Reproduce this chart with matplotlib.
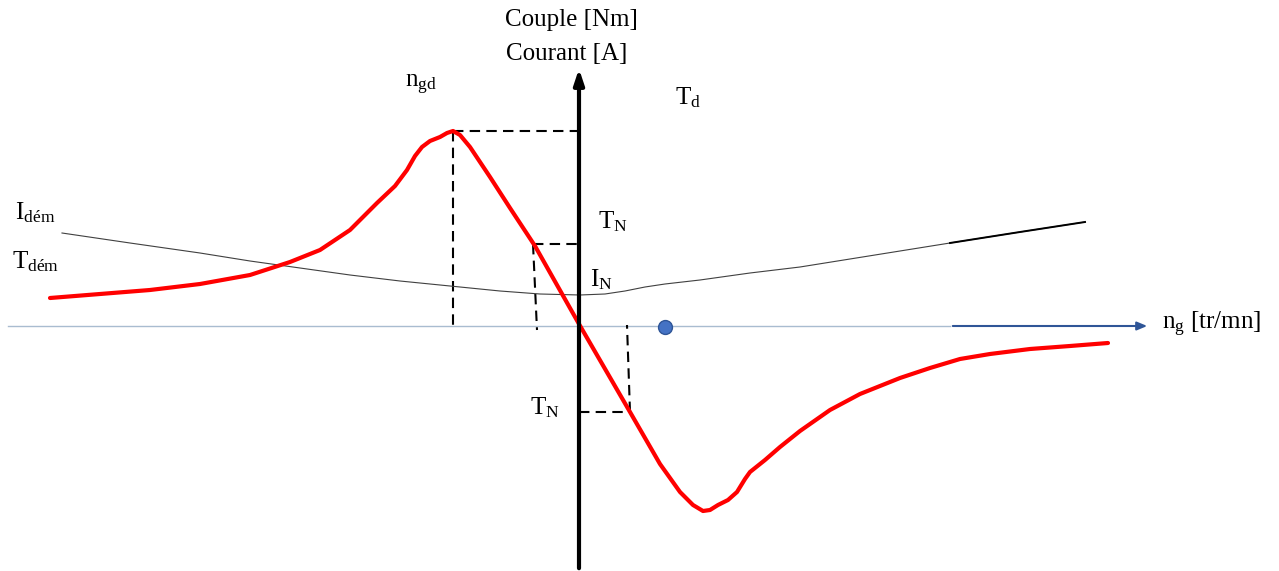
import matplotlib.pyplot as plt

plt.rcParams['mathtext.fontset'] = 'custom'
plt.rcParams['mathtext.rm'] = 'Liberation Serif'
plt.rcParams['mathtext.it'] = 'Liberation Serif'

# schematic coordinates (origin = axes crossing)
torque_x = [-529, -479, -429, -379, -329, -289, -259, -229, -202, -184, -172, -164, -157, -149,
            -139, -132, -126, -119, -109, -89, -69, -44, 0,
            51, 81, 101, 114, 124, 131, 139, 149, 158, 166, 171, 186, 201, 221, 251, 281,
            321, 351, 381, 411, 451, 491, 529]
torque_y = [28, 32, 36, 42, 51, 64, 76, 96, 123, 140, 156, 170, 179, 185,
            189, 193, 195, 191, 179, 149, 118, 80, 2,
            -86, -138, -166, -179, -185, -184, -179, -174, -166, -153, -146, -134, -121, -105, -84, -68,
            -52, -42, -33, -28, -23, -20, -17]

current_x = [-517, -449, -379, -329, -279, -229, -179, -129, -79, -39, 1, 26, 46, 66, 86,
             121, 171, 221, 271, 321, 371, 441, 506]
current_y = [93, 83, 73, 65, 58, 51, 45, 40, 35, 32, 31, 32, 35, 39, 42,
             46, 53, 59, 67, 75, 83, 94, 104]

# operating points
t_max = (-126, 195)
t_nom_motor = (-46, 82)
t_nom_gen = (51, -86)
sync_point = (86, -1)

fig = plt.figure(figsize=(12.79, 5.71), dpi=100)
ax = fig.add_axes([0, 0, 1, 1])
ax.set_xlim(-579, 700)
ax.set_ylim(-245, 326)
ax.axis('off')

# axes of the diagram
ax.plot([-571, 371], [0, 0], color='#A9BCD0', lw=1)
ax.annotate('', xy=(571, 0), xytext=(371, 0),
            arrowprops=dict(arrowstyle='-|>,head_length=0.6,head_width=0.25', color='#2F5597', lw=1.5))
ax.annotate('', xy=(0, 260), xytext=(0, -245),
            arrowprops=dict(arrowstyle='-|>,head_length=0.9,head_width=0.3', color='black', lw=3))

# dashed guides
dash = dict(color='black', lw=1.5, dashes=(5, 3))
ax.plot([t_max[0], 0], [t_max[1], t_max[1]], **dash)
ax.plot([t_max[0], t_max[0]], [t_max[1], -4], **dash)
ax.plot([t_nom_motor[0], 0], [t_nom_motor[1], t_nom_motor[1]], **dash)
ax.plot([t_nom_motor[0], t_nom_motor[0] + 4], [t_nom_motor[1], -4], **dash)
ax.plot([0, t_nom_gen[0]], [t_nom_gen[1], t_nom_gen[1]], **dash)
ax.plot([t_nom_gen[0], t_nom_gen[0] - 3], [t_nom_gen[1], 1], **dash)

# curves
ax.plot(current_x, current_y, color='#404040', lw=0.8)
ax.plot(current_x[-3:], current_y[-3:], color='black', lw=1.4)
ax.plot(torque_x, torque_y, color='#FF0000', lw=3, solid_capstyle='round', solid_joinstyle='round')

ax.plot(*sync_point, 'o', ms=10, mfc='#4472C4', mec='#2F5597', mew=1)

# labels
fs = 18
ax.text(-8, 306, 'Couple [Nm]', ha='center', va='center', fontsize=fs, family='Liberation Serif')
ax.text(-12, 272, 'Courant [A]', ha='center', va='center', fontsize=fs, family='Liberation Serif')
ax.text(-174, 241, r'$\mathrm{n_{gd}}$', ha='left', va='center', fontsize=fs)
ax.text(96, 228, r'$\mathrm{T_{d}}$', ha='left', va='center', fontsize=fs)
ax.text(19, 104, r'$\mathrm{T_{N}}$', ha='left', va='center', fontsize=fs)
ax.text(11, 46, r'$\mathrm{I_{N}}$', ha='left', va='center', fontsize=fs)
ax.text(-49, -82, r'$\mathrm{T_{N}}$', ha='left', va='center', fontsize=fs)
ax.text(-564, 113, r'$\mathrm{I_{dém}}$', ha='left', va='center', fontsize=fs)
ax.text(-567, 64, r'$\mathrm{T_{dém}}$', ha='left', va='center', fontsize=fs)
ax.text(583, 2, r'$\mathrm{n_{g}}$ [tr/mn]', ha='left', va='center', fontsize=fs, family='Liberation Serif')

fig.savefig('out.png', dpi=100)
